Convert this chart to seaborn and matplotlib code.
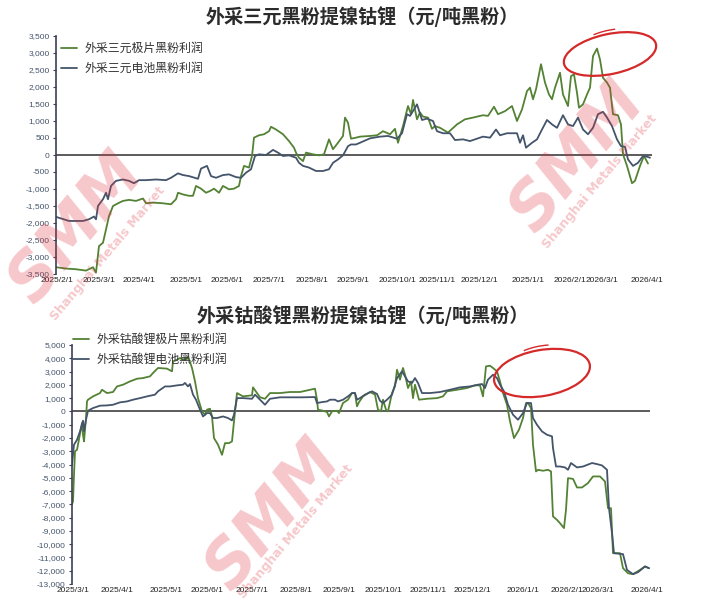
import pandas as pd
import matplotlib.pyplot as plt
import seaborn as sns
from matplotlib.patches import Ellipse, Arc

# ---- data: x is a trading-day position on the chart's category axis ----
tri_ticks = [1, 43, 83, 130, 171, 213, 256, 297, 341, 381, 423, 472, 514, 546, 591]
tri_labels = ['2025/2/1', '2025/3/1', '2025/4/1', '2025/5/1', '2025/6/1', '2025/7/1',
              '2025/8/1', '2025/9/1', '2025/10/1', '2025/11/1', '2025/12/1', '2025/1/1',
              '2026/2/1', '2026/3/1', '2026/4/1']

tri_pole_x = [0, 10, 20, 30, 37, 40, 43, 47, 50, 53, 57, 62, 67, 73, 80, 87, 90, 97, 107, 115,
              120, 122, 127, 133, 137, 140, 145, 150, 154, 158, 163, 167, 173, 178, 183, 185,
              188, 193, 196, 198, 203, 208, 213, 215, 220, 227, 233, 238, 240, 243, 247, 250,
              257, 263, 268, 273, 277, 282, 287, 289, 292, 295, 300, 304, 314, 321, 327, 334,
              339, 342, 347, 352, 355, 357, 361, 364, 367, 372, 376, 379, 384, 392, 401, 409,
              417, 427, 432, 438, 442, 449, 456, 461, 466, 471, 474, 477, 480, 485, 489, 493,
              496, 499, 504, 507, 512, 515, 518, 521, 523, 527, 531, 534, 537, 541, 544, 547,
              551, 554, 557, 562, 565, 567, 571, 576, 579, 584, 588, 592]
tri_pole_y = [-3300, -3340, -3360, -3400, -3300, -3460, -2680, -2580, -2190, -1800, -1500, -1420,
              -1350, -1320, -1350, -1280, -1420, -1400, -1420, -1450, -1300, -1110, -1160, -1200,
              -1200, -910, -990, -1110, -1060, -990, -1110, -910, -1010, -990, -910, -620, -320,
              -370, -30, 510, 580, 610, 700, 830, 750, 610, 410, 215, 70, -80, -180, 70, 20, -10,
              20, 460, 170, 360, 560, 1100, 950, 480, 510, 540, 560, 580, 700, 610, 770, 360, 850,
              1440, 1200, 1620, 1050, 1250, 1130, 1100, 770, 850, 800, 660, 900, 1050, 1100, 1170,
              1150, 1420, 1200, 1290, 1440, 1000, 1340, 1880, 1980, 1640, 1930, 2670, 2130, 1780,
              1640, 1980, 2420, 1780, 1440, 2320, 2370, 1830, 1390, 1490, 1780, 1980, 2910, 3130,
              2810, 2270, 2130, 1980, 1200, 1170, 900, 20, -320, -830, -760, -320, -30, -250]

tri_cell_x = [0, 13, 27, 33, 38, 40, 42, 47, 50, 52, 55, 60, 67, 73, 78, 83, 90, 100, 110, 115,
              122, 127, 133, 142, 145, 151, 155, 160, 167, 173, 180, 185, 190, 195, 199, 203, 210,
              217, 222, 227, 233, 240, 243, 247, 253, 260, 267, 273, 277, 282, 287, 292, 295, 300,
              304, 314, 324, 332, 341, 346, 351, 354, 358, 361, 366, 371, 377, 381, 387, 394, 399,
              407, 414, 421, 427, 434, 440, 444, 451, 461, 464, 467, 470, 476, 481, 486, 491, 496,
              501, 507, 512, 517, 522, 527, 532, 537, 542, 547, 551, 556, 561, 565, 569, 572, 577,
              582, 587, 591, 594]
tri_cell_y = [-1820, -1940, -1940, -1890, -1810, -1890, -1500, -1300, -1110, -1300, -910, -760,
              -720, -760, -830, -740, -740, -720, -740, -670, -540, -590, -620, -700, -400, -320,
              -620, -670, -590, -570, -650, -670, -520, -420, -30, 20, 0, 150, 70, -30, -10, -80,
              -230, -320, -370, -470, -470, -420, -230, -130, -10, 260, 310, 310, 360, 490, 540,
              560, 480, 640, 1200, 1150, 1340, 1490, 1030, 1070, 1000, 700, 640, 640, 440, 460,
              410, 480, 540, 510, 750, 580, 640, 640, 360, 580, 215, 360, 460, 750, 1030, 900, 800,
              1170, 900, 850, 1100, 750, 610, 800, 1200, 1270, 1100, 850, 460, 260, 240, -130,
              -320, -230, -30, -50, -80]

lco_ticks = [1, 45, 94, 135, 180, 224, 267, 311, 356, 400, 451, 495, 526, 575]
lco_labels = ['2025/3/1', '2025/4/1', '2025/5/1', '2025/6/1', '2025/7/1', '2025/8/1',
              '2025/9/1', '2025/10/1', '2025/11/1', '2025/12/1', '2026/1/1', '2026/2/1',
              '2026/3/1', '2026/4/1']

lco_pole_x = [0, 1, 2, 3, 5, 6, 10, 11, 12, 14, 15, 16, 21, 28, 30, 35, 41, 45, 51, 58, 65, 71,
              78, 81, 86, 95, 100, 101, 105, 108, 111, 115, 116, 120, 123, 126, 130, 133, 135,
              138, 140, 142, 146, 150, 153, 157, 160, 162, 165, 171, 180, 181, 185, 188, 193,
              198, 208, 218, 228, 238, 243, 245, 246, 251, 255, 257, 260, 265, 267, 271, 276,
              280, 283, 285, 287, 291, 298, 303, 306, 309, 311, 314, 316, 320, 323, 325, 328,
              331, 333, 336, 339, 341, 343, 347, 355, 365, 371, 375, 385, 395, 403, 408, 411,
              414, 418, 421, 425, 428, 431, 435, 438, 442, 447, 451, 454, 456, 459, 461, 464,
              466, 471, 476, 479, 481, 485, 488, 492, 494, 496, 501, 505, 510, 516, 521, 528,
              533, 536, 539, 541, 548, 551, 556, 561, 568, 573, 577]
lco_pole_y = [-7000, -6780, -4770, -3015, -2890, -2510, -880, -1760, -2260, -500, 750, 880, 1130,
              1380, 1630, 1380, 1460, 1880, 2010, 2260, 2460, 2510, 2640, 2890, 3270, 3220, 3015,
              3770, 3890, 4020, 3890, 3970, 4150, 3270, 2260, 1000, 0, -250, 130, 200, -380,
              -2010, -2510, -3270, -2390, -2390, -2260, -750, 1380, 1130, 1210, 1810, 1380, 1060,
              950, 1380, 1380, 1460, 1460, 1630, 1710, 880, 130, 50, -50, -380, 0, 50, -130, 630,
              880, 1380, 1380, 380, 700, 1130, 1460, 1260, 130, 0, 880, 130, 0, 1380, 1880, 3140,
              2390, 3270, 2760, 1760, 2260, 1000, 2010, 880, 950, 1000, 1130, 1510, 1630, 1760,
              1960, 1960, 1130, 3390, 3440, 3270, 3015, 2260, 1380, 500, -750, -2010, -1380, -500,
              630, 630, 250, -2510, -4520, -4400, -4470, -4400, -4520, -7910, -8170, -8420, -8790,
              -7410, -5030, -5080, -5730, -5730, -5400, -4900, -4900, -5280, -7290, -7290, -10680,
              -10680, -11810, -12190, -12260, -11940, -11680, -11810]

lco_cell_x = [0, 2, 5, 8, 11, 12, 14, 16, 21, 28, 35, 41, 48, 55, 61, 68, 75, 83, 86, 93, 98,
              105, 111, 113, 116, 118, 121, 124, 128, 131, 135, 138, 141, 145, 151, 156, 160,
              162, 165, 171, 180, 183, 188, 193, 198, 208, 218, 231, 243, 245, 250, 255, 258,
              263, 266, 271, 276, 280, 283, 285, 288, 293, 300, 305, 308, 311, 315, 320, 325,
              330, 333, 336, 340, 343, 346, 350, 358, 368, 378, 388, 398, 406, 410, 413, 416,
              421, 425, 428, 432, 436, 441, 446, 451, 455, 459, 461, 465, 470, 475, 480, 481,
              484, 488, 493, 496, 499, 505, 511, 520, 525, 530, 535, 537, 540, 542, 551, 555,
              561, 566, 573, 577]
lco_cell_y = [-4000, -2510, -2140, -1510, -700, -1510, -630, 50, 250, 430, 450, 500, 680, 750,
              880, 1000, 1130, 1260, 1510, 1880, 1880, 1960, 2010, 2140, 1880, 2060, 1260, 880,
              130, -380, -130, -130, -500, -500, -380, -500, -680, -250, 1000, 1000, 950, 1260,
              880, 500, 950, 1060, 1060, 1060, 1080, 630, 700, 750, 880, 880, 750, 880, 1130,
              1380, 1380, 880, 1000, 1260, 1510, 1310, 800, 630, 880, 1260, 2510, 3015, 2640,
              2260, 2140, 2510, 2140, 1380, 1380, 1460, 1630, 1810, 1880, 2010, 2060, 1760, 2390,
              2760, 2510, 2010, 1510, 500, -250, -630, -130, 630, 630, -500, -1010, -1510, -1760,
              -1880, -2760, -4150, -4150, -4220, -4400, -3890, -4220, -4150, -3890, -3970, -4070,
              -4400, -7290, -9170, -10680, -10750, -11940, -12260, -12110, -11680, -11810]

GREEN = '#548235'
BLUE = '#44546A'

sns.set_style('white')
plt.rcParams['font.family'] = ['Noto Sans CJK SC', 'DejaVu Sans']

fig = plt.figure(figsize=(7.12, 6.11), dpi=100)
ax1 = fig.add_axes([56 / 712, 1 - 274 / 611, 596 / 712, 238 / 611])
ax2 = fig.add_axes([72 / 712, 1 - 584 / 611, 578 / 712, 239 / 611])


def long_frame(px, py, cx, cy, pole_name, cell_name):
    a = pd.DataFrame({'pos': px, 'value': py, 'series': pole_name})
    b = pd.DataFrame({'pos': cx, 'value': cy, 'series': cell_name})
    return pd.concat([a, b], ignore_index=True)


def draw(ax, df, names, ticks, labels, ylim, ystep, xmax, leg_anchor):
    sns.lineplot(data=df, x='pos', y='value', hue='series', hue_order=names,
                 palette=[GREEN, BLUE], linewidth=1.3, ax=ax, estimator=None, sort=False)
    ax.axhline(0, color='#404040', lw=1.2, zorder=1)
    ax.set_xlim(0, xmax)
    ax.set_ylim(*ylim)
    ax.set_yticks(range(ylim[0], ylim[1] + 1, ystep))
    ax.set_yticklabels([f'{v:,}' for v in range(ylim[0], ylim[1] + 1, ystep)])
    ax.set_xticks(ticks)
    ax.set_xticklabels(labels)
    ax.set_xlabel('')
    ax.set_ylabel('')
    for s in ['top', 'right', 'bottom']:
        ax.spines[s].set_visible(False)
    ax.spines['left'].set_color('#3b3f55')
    ax.spines['left'].set_linewidth(1.2)
    ax.tick_params(axis='y', left=True, length=2.5, width=0.8, color='#3b3f55', pad=2,
                   labelsize=6, labelcolor=BLUE)
    ax.tick_params(axis='x', length=0, pad=2, labelsize=6, labelcolor='#222222')
    for t in ax.get_xticklabels() + ax.get_yticklabels():
        t.set_family(['Liberation Sans', 'DejaVu Sans'])
    h, l = ax.get_legend_handles_labels()
    ax.legend(h, l, loc='upper left', bbox_to_anchor=leg_anchor, frameon=False,
              fontsize=8.6, handlelength=1.35, handletextpad=0.6, labelspacing=0.6,
              borderpad=0, borderaxespad=0, labelcolor='#333333')


tri_names = ['外采三元极片黑粉利润', '外采三元电池黑粉利润']
lco_names = ['外采钴酸锂极片黑粉利润', '外采钴酸锂电池黑粉利润']

draw(ax1, long_frame(tri_pole_x, tri_pole_y, tri_cell_x, tri_cell_y, *tri_names),
     tri_names, tri_ticks, tri_labels, (-3500, 3500), 500, 596, (0.008, 0.976))
draw(ax2, long_frame(lco_pole_x, lco_pole_y, lco_cell_x, lco_cell_y, *lco_names),
     lco_names, lco_ticks, lco_labels, (-13000, 5000), 1000, 578, (0.002, 1.05))

fig.text(362 / 712, 1 - 17 / 611, '外采三元黑粉提镍钴锂（元/吨黑粉）', ha='center', va='center',
         fontsize=13.8, fontweight='bold', color='#2b2b2b')
fig.text(363 / 712, 1 - 316 / 611, '外采钴酸锂黑粉提镍钴锂（元/吨黑粉）', ha='center', va='center',
         fontsize=13.8, fontweight='bold', color='#2b2b2b')

# SMM watermarks
for cx, cy, sx, sy in [(76, 228, 108, 254), (577, 157, 600, 182), (273, 515, 296, 532)]:
    fig.text(cx / 712, 1 - cy / 611, 'SMM', rotation=50, ha='center', va='center',
             fontsize=46, fontweight='heavy', fontstyle='italic', color='#e0303c', alpha=0.27,
             family='DejaVu Sans', zorder=10)
    fig.text(sx / 712, 1 - sy / 611, 'Shanghai Metals Market', rotation=50, ha='center',
             va='center', fontsize=9, fontweight='bold', color='#e0303c', alpha=0.27,
             family='DejaVu Sans', zorder=10)

# hand-drawn red ellipses
tr = fig.dpi_scale_trans
for ex, ey, w, hgt, ang in [(610, 54, 94, 40, 12), (542, 373, 97, 46, 10)]:
    fig.add_artist(Ellipse((ex / 100, (611 - ey) / 100), w / 100, hgt / 100, angle=ang,
                           fill=False, color='#d42a2a', lw=1.6, transform=tr, zorder=11))
    fig.add_artist(Arc((ex / 100 + 0.02, (611 - ey) / 100 + 0.02), w / 100 * 0.9, hgt / 100 * 1.1,
                       angle=ang, theta1=70, theta2=125, color='#d42a2a', lw=1.0,
                       transform=tr, zorder=11))

fig.savefig('out.png', dpi=100)
